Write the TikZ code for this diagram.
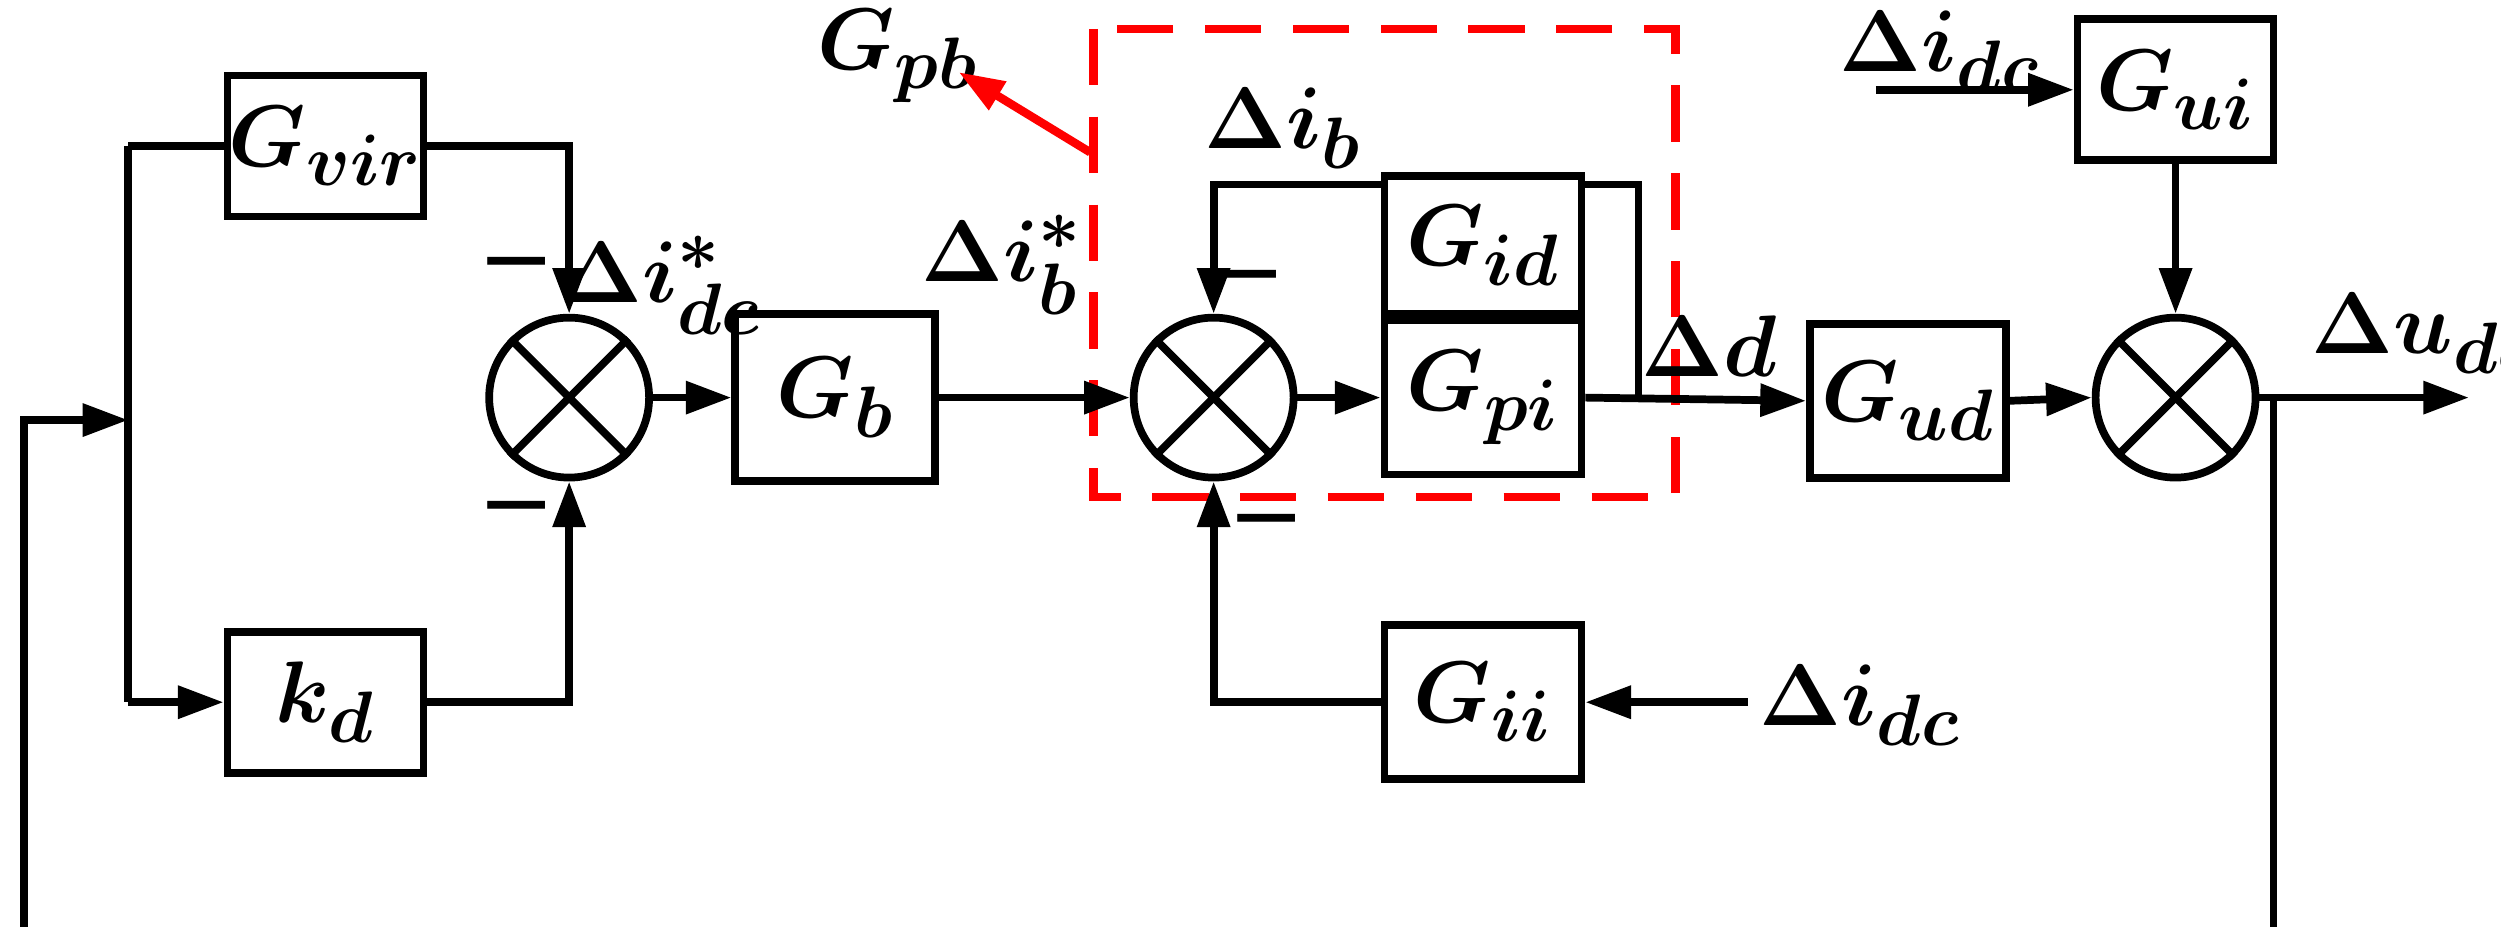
\documentclass[tikz,border=0pt]{standalone}
\usepackage{amsmath}
\usepackage{fontspec}
\setmainfont{Liberation Serif}
\usetikzlibrary{arrows.meta}
\begin{document}
\begin{tikzpicture}[x=0.01603cm,y=-0.01603cm,line width=2.2pt,
 >={Triangle[length=13pt,width=9pt]},
 blk/.style={draw,minimum width=1.96cm,minimum height=1.41cm,inner sep=0pt,font=\fontsize{30}{33}\selectfont},
 sum/.style={draw,circle,minimum size=1.6cm,inner sep=0pt},
 lab/.style={font=\fontsize{30}{33}\selectfont},
 mn/.style={font=\fontsize{32}{34}\selectfont\bfseries}]
\useasboundingbox (0,0) rectangle (1560,578);
\node[blk] (gvir) at (203,91) {$\boldsymbol{G_{vir}}$};
\node[blk] (kd) at (203,438) {$\boldsymbol{k_{d}}$};
\node[sum] (s1) at (355,248) {};
\draw (s1.north west) -- (s1.south east) (s1.north east) -- (s1.south west);
\node[blk,minimum height=1.67cm,minimum width=2.0cm] (gb) at (521,248) {$\boldsymbol{G_{b}}$};
\node[sum] (s2) at (757,248) {};
\draw (s2.north west) -- (s2.south east) (s2.north east) -- (s2.south west);
\node[blk,minimum height=1.54cm,minimum width=1.97cm] (gpi) at (925,248) {$\boldsymbol{G_{pi}}$};
\node[blk,minimum height=1.38cm,minimum width=1.97cm] (gid) at (925,153) {$\boldsymbol{G_{id}}$};
\node[blk,minimum height=1.54cm,minimum width=1.97cm] (gii) at (925,438) {$\boldsymbol{G_{ii}}$};
\node[blk,minimum height=1.54cm,minimum width=1.96cm] (gud) at (1190,250) {$\boldsymbol{G_{ud}}$};
\node[sum] (s3) at (1357,248) {};
\draw (s3.north west) -- (s3.south east) (s3.north east) -- (s3.south west);
\node[blk] (gui) at (1357,56) {$\boldsymbol{G_{ui}}$};
\draw[red,line width=2.4pt,dash pattern=on 16pt off 9pt] (682,18) rectangle (1045,310);
\coordinate (j1) at (80,262);
\coordinate (jt) at (80,91);
\coordinate (jb) at (80,438);
\coordinate (fo) at (1418,248);
\coordinate (out) at (1540,248);
\draw (jt) -- (gvir.west);
\draw[->] (gvir.east) -| (s1.north);
\draw[->] (kd.east) -| (s1.south);
\draw (jt) -- (jb);
\draw[->] (jb) -- (kd.west);
\draw[->] (s1.east) -- (gb.west);
\draw[->] (gb.east) -- (s2.west);
\draw[->] (s2.east) -- (gpi.west);
\draw[->] (gpi.east) -- (gud.west);
\draw[->] (gud.east) -- (s3.west);
\draw[->] (gui.south) -- (s3.north);
\draw[->] (s3.east) -- (out);
\draw[->] (fo) -- (1418,905) -- (15,905) -- (15,262) -- (j1);
\draw[->] (gid.west |- 0,115) -| (s2.north);
\draw (gid.east |- 0,115) -- (1022,115) -- (1022,248);
\draw[->] (gii.west) -| (s2.south);
\coordinate (ii) at (1090,438);
\draw[->] (ii) -- (gii.east);
\coordinate (ui) at (1170,56);
\draw[->] (ui) -- (gui.west);
\node[lab] at (1160,440) {$\boldsymbol{\Delta i_{dc}}$};
\node[lab] at (1210,32) {$\boldsymbol{\Delta i_{dc}}$};
\node[lab] at (1512,208) {$\boldsymbol{\Delta u_{dc}}$};
\node[lab] at (1066,216) {$\boldsymbol{\Delta d}$};
\node[lab] at (412,178) {$\boldsymbol{\Delta i^{*}_{dc}}$};
\node[lab] at (625,165) {$\boldsymbol{\Delta i^{*}_{b}}$};
\node[lab] at (800,80) {$\boldsymbol{\Delta i_{b}}$};
\node[lab] (gpb) at (560,35) {$\boldsymbol{G_{pb}}$};
\draw[red,line width=2.4pt,-{Triangle[length=13pt,width=9pt]}] (680,95) -- (598,45);
\node[mn] at (322,170) {--};
\node[mn] at (322,322) {--};
\node[mn] at (778,178) {--};
\node[mn] at (790,330) {--};
\end{tikzpicture}
\end{document}
